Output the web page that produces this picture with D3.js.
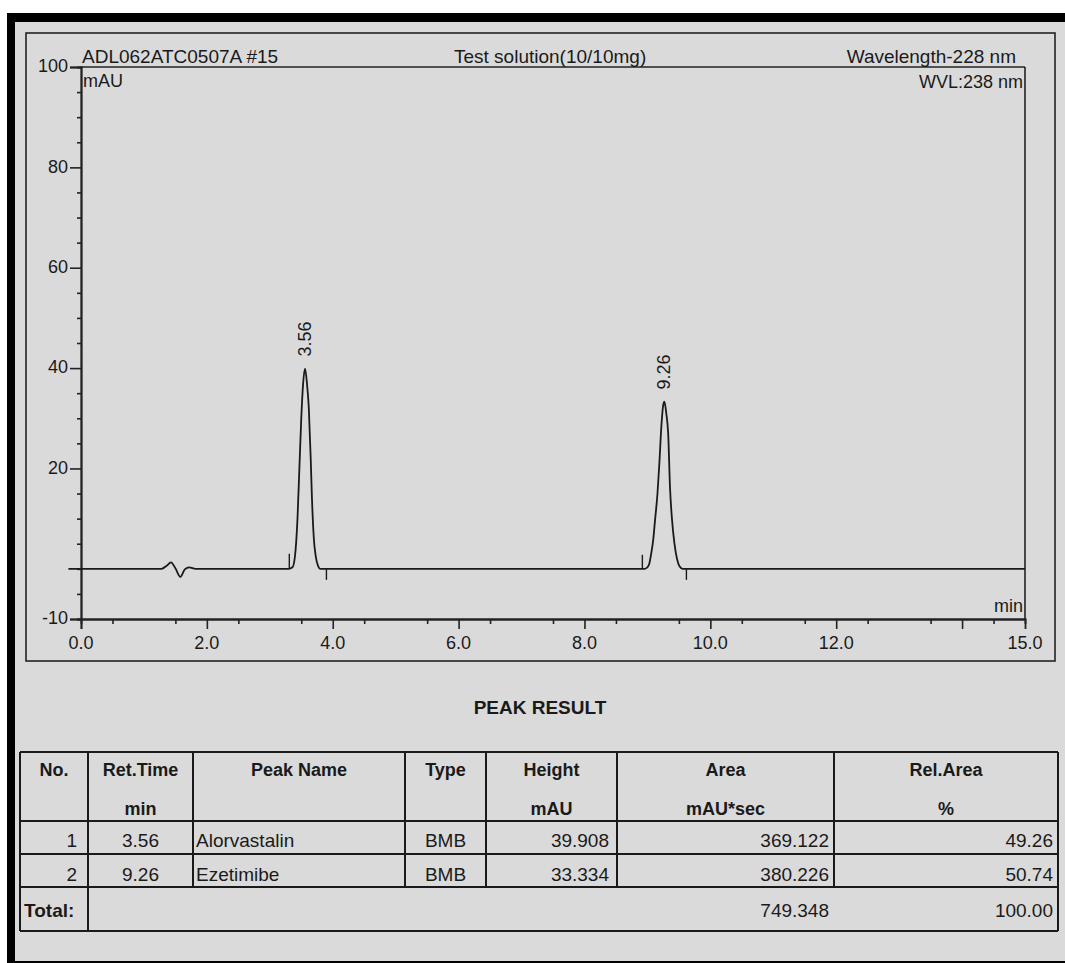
<!DOCTYPE html>
<html>
<head>
<meta charset="utf-8">
<script src="https://cdn.jsdelivr.net/npm/d3@7"></script>
<style>
body{margin:0;background:#fff;}
text{font-family:"Liberation Sans",Arial,sans-serif;fill:#1a1a1a;}
</style>
</head>
<body>
<svg id="page" width="1065" height="963"></svg>
<script>
// chromatogram trace: [time (min), signal (mAU)]
var trace = [
  [-0.2,0],[1.28,0],[1.36,0.6],[1.43,1.3],[1.50,0.1],[1.58,-1.6],[1.65,-0.1],[1.72,0.3],[1.82,0],
  [3.30,0],[3.36,0.3],[3.40,2.5],[3.44,10],[3.47,20],[3.50,30],[3.53,37],[3.56,39.9],
  [3.59,37],[3.62,32],[3.65,22],[3.67,14],[3.70,6],[3.73,2.5],[3.77,0.5],[3.80,0],
  [8.95,0],[9.00,0.3],[9.03,1],[9.06,3],[9.09,5.5],[9.12,9.5],[9.16,15],[9.19,21],[9.22,28],
  [9.25,32.5],[9.27,33.3],[9.30,31],[9.33,27],[9.36,16],[9.39,10],[9.43,5],[9.47,2],[9.51,0.5],[9.56,0],
  [15,0]
];
// integration start/end markers: [time, mAU tip]
var markers = [[3.31,3.0],[3.90,-2.2],[8.92,2.8],[9.62,-2.2]];

var peakTimes = [3.56, 9.26];
var peakHeights = [39.908, 33.334];

var xTickLabels = [0,2,4,6,8,10,12,15];
var xMajor = [0,2,4,6,8,10,12,14];
var yTickLabels = [100,80,60,40,20,-10];

// peak result table
var colHeads1 = ["No.","Ret.Time","Peak Name","Type","Height","Area","Rel.Area"];
var colHeads2 = ["","min","","","mAU","mAU*sec","%"];
var peakNo = ["1","2"];
var retTime = ["3.56","9.26"];
var peakName = ["Alorvastalin","Ezetimibe"];
var peakType = ["BMB","BMB"];
var heightVal = ["39.908","33.334"];
var areaVal = ["369.122","380.226"];
var relArea = ["49.26","50.74"];
var totalArea = "749.348";
var totalRel = "100.00";

var svg = d3.select("#page");

// page: white margin, scanned gray sheet, black scan edges
svg.append("rect").attr("x",15).attr("y",22).attr("width",1050).attr("height",940).attr("fill","#dadada");
svg.append("rect").attr("x",7).attr("y",13).attr("width",1058).attr("height",9).attr("fill","#000");
svg.append("rect").attr("x",7).attr("y",13).attr("width",8).attr("height",950).attr("fill","#000");
svg.append("rect").attr("x",15).attr("y",961).attr("width",1050).attr("height",2).attr("fill","#000");

// outer frame of the chromatogram
svg.append("rect").attr("x",26).attr("y",33).attr("width",1029).attr("height",628)
  .attr("fill","none").attr("stroke","#222").attr("stroke-width",1.6);

var x = d3.scaleLinear().domain([0,15]).range([81,1025]);
var y = d3.scaleLinear().domain([-10,100]).range([619,67]);

// plot box top and right
svg.append("line").attr("x1",x(0)).attr("x2",x(15)).attr("y1",y(100)).attr("y2",y(100))
  .attr("stroke","#222").attr("stroke-width",1.6);
svg.append("line").attr("x1",x(15)).attr("x2",x(15)).attr("y1",y(100)).attr("y2",y(-10))
  .attr("stroke","#222").attr("stroke-width",1.6);

// axes
var yMinor = d3.range(-10,101,5).filter(function(d){return d%20!==0 || d===0;});
var yMajor = [100,80,60,40,20,-10];
var yAx = svg.append("g").attr("transform","translate("+x(0)+",0)");
yAx.call(d3.axisLeft(y).tickValues(yMajor).tickSize(11).tickFormat(""));
yAx.append("g").call(d3.axisLeft(y).tickValues(yMinor).tickSize(4).tickFormat(""));

var xAx = svg.append("g").attr("transform","translate(0,"+y(-10)+")");
xAx.call(d3.axisBottom(x).tickValues(xMajor).tickSize(10).tickFormat(""));
var xMinor = d3.range(0.5,15,1);
xAx.append("g").call(d3.axisBottom(x).tickValues(xMinor).tickSize(5).tickFormat(""));

svg.selectAll(".domain").attr("stroke","#222").attr("stroke-width",1.8);
svg.selectAll(".tick line").attr("stroke","#222").attr("stroke-width",1.6);

svg.selectAll(".ylab").data(yTickLabels).enter().append("text")
  .attr("class","ylab")
  .attr("x",68).attr("y",function(d){return y(d);})
  .attr("dy","0.3em")
  .attr("text-anchor","end").attr("font-size","18px")
  .text(function(d){return d;});

svg.selectAll(".xlab").data(xTickLabels).enter().append("text")
  .attr("class","xlab")
  .attr("x",function(d){return x(d);}).attr("y",649)
  .attr("text-anchor","middle").attr("font-size","18px")
  .text(function(d){return d.toFixed(1);});

// header texts
svg.append("text").attr("x",82).attr("y",63).attr("font-size","19px").text("ADL062ATC0507A #15");
svg.append("text").attr("x",454).attr("y",63).attr("font-size","19px").text("Test solution(10/10mg)");
svg.append("text").attr("x",1016).attr("y",63).attr("text-anchor","end").attr("font-size","19px").text("Wavelength-228 nm");
svg.append("text").attr("x",1023).attr("y",88).attr("text-anchor","end").attr("font-size","18px").text("WVL:238 nm");
svg.append("text").attr("x",83).attr("y",87).attr("font-size","18px").text("mAU");
svg.append("text").attr("x",1023).attr("y",612).attr("text-anchor","end").attr("font-size","18px").text("min");

// trace
var line = d3.line()
  .x(function(d){return x(d[0]);})
  .y(function(d){return y(d[1]);})
  .curve(d3.curveMonotoneX);
svg.append("path").datum(trace).attr("d",line)
  .attr("fill","none").attr("stroke","#1a1a1a").attr("stroke-width",1.8);

svg.selectAll(".marker").data(markers).enter().append("line")
  .attr("class","marker")
  .attr("x1",function(d){return x(d[0]);}).attr("x2",function(d){return x(d[0]);})
  .attr("y1",y(0)).attr("y2",function(d){return y(d[1]);})
  .attr("stroke","#1a1a1a").attr("stroke-width",1.4);

// peak labels, rotated
svg.selectAll(".plab").data(peakTimes).enter().append("text")
  .attr("class","plab")
  .attr("transform",function(d,i){
    return "translate("+(x(d)+6)+","+(y(peakHeights[i])-12)+") rotate(-90)";
  })
  .attr("font-size","18px")
  .text(function(d){return d.toFixed(2);});

// PEAK RESULT table
svg.append("text").attr("x",540).attr("y",714).attr("text-anchor","middle")
  .attr("font-size","19px").attr("font-weight","bold").text("PEAK RESULT");

var colEdges = [20,88,193,405,486,617,834,1058];
var rowEdges = [752,821,854,887,931];
var tbl = svg.append("g");
var stroke = "#1a1a1a";

tbl.selectAll(".hline").data(rowEdges).enter().append("line")
  .attr("x1",colEdges[0]).attr("x2",colEdges[colEdges.length-1])
  .attr("y1",function(d){return d;}).attr("y2",function(d){return d;})
  .attr("stroke",stroke).attr("stroke-width",2);

// vertical lines: all columns through the data rows, only first two in the total row
tbl.selectAll(".vline").data(colEdges).enter().append("line")
  .attr("x1",function(d){return d;}).attr("x2",function(d){return d;})
  .attr("y1",rowEdges[0])
  .attr("y2",function(d,i){return (i<=1 || i===colEdges.length-1) ? rowEdges[4] : rowEdges[3];})
  .attr("stroke",stroke).attr("stroke-width",2);

function mid(i){return (colEdges[i]+colEdges[i+1])/2;}

tbl.selectAll(".h1").data(colHeads1).enter().append("text")
  .attr("x",function(d,i){return mid(i);}).attr("y",776)
  .attr("text-anchor","middle").attr("font-size","18px").attr("font-weight","bold")
  .text(function(d){return d;});
tbl.selectAll(".h2").data(colHeads2).enter().append("text")
  .attr("x",function(d,i){return mid(i);}).attr("y",815)
  .attr("text-anchor","middle").attr("font-size","18px").attr("font-weight","bold")
  .text(function(d){return d;});

var rowBase = [847,881];
peakNo.forEach(function(n,r){
  var yy = rowBase[r];
  var cells = [
    {t:n, x:colEdges[1]-11, a:"end"},
    {t:retTime[r], x:mid(1), a:"middle"},
    {t:peakName[r], x:colEdges[2]+3, a:"start"},
    {t:peakType[r], x:mid(3), a:"middle"},
    {t:heightVal[r], x:colEdges[5]-8, a:"end"},
    {t:areaVal[r], x:colEdges[6]-5, a:"end"},
    {t:relArea[r], x:colEdges[7]-5, a:"end"}
  ];
  cells.forEach(function(c){
    tbl.append("text").attr("x",c.x).attr("y",yy).attr("text-anchor",c.a)
      .attr("font-size","19px").text(c.t);
  });
});

tbl.append("text").attr("x",24).attr("y",917).attr("font-size","19px").attr("font-weight","bold").text("Total:");
tbl.append("text").attr("x",colEdges[6]-5).attr("y",917).attr("text-anchor","end").attr("font-size","19px").text(totalArea);
tbl.append("text").attr("x",colEdges[7]-5).attr("y",917).attr("text-anchor","end").attr("font-size","19px").text(totalRel);
</script>
</body>
</html>
